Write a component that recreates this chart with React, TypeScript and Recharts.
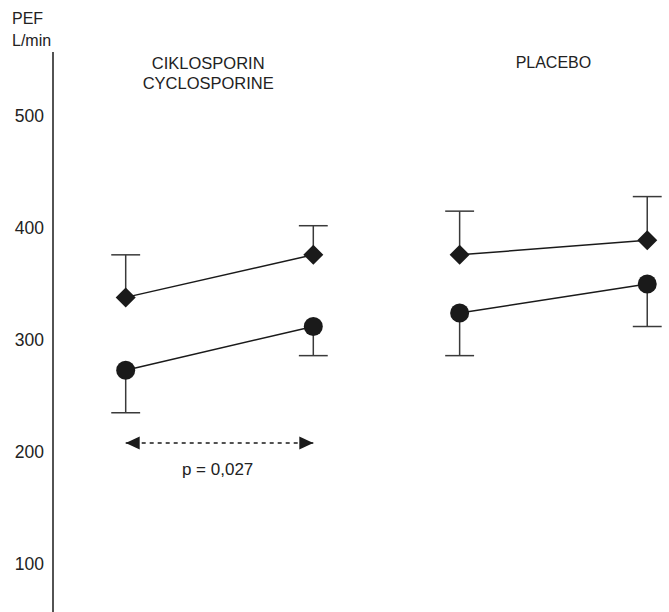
import React from 'react';
import {
  ScatterChart,
  Scatter,
  XAxis,
  YAxis,
  ReferenceLine,
  ReferenceDot,
} from 'recharts';

// visit positions on the x axis (two visits per group)
const cycloX = [0, 1];
const placeboX = [1.78, 2.78];

// PEF L/min
const cycloDiamond = [338, 376];
const cycloDiamondUpper = [376, 402];
const cycloCircle = [273, 312];
const cycloCircleLower = [235, 286];

const placeboDiamond = [376, 389];
const placeboDiamondUpper = [415, 428];
const placeboCircle = [324, 350];
const placeboCircleLower = [286, 312];

const yTicks = [100, 200, 300, 400, 500];
const arrowY = 208;
const pValue = 'p = 0,027';

const INK = '#1a1a1a';
const BAR = '#3a3a3a';
const CAP = 0.077; // half cap width, in x units

const toPoints = (xs: number[], ys: number[]) => xs.map((x, i) => ({ x, y: ys[i] }));

const bars = [
  { xs: cycloX, from: cycloDiamond, to: cycloDiamondUpper },
  { xs: cycloX, from: cycloCircle, to: cycloCircleLower },
  { xs: placeboX, from: placeboDiamond, to: placeboDiamondUpper },
  { xs: placeboX, from: placeboCircle, to: placeboCircleLower },
];

const Diamond = (props: any) => {
  const { cx, cy } = props;
  const r = 10;
  return (
    <polygon
      points={`${cx},${cy - r} ${cx + r},${cy} ${cx},${cy + r} ${cx - r},${cy}`}
      fill={INK}
    />
  );
};

const Dot = (props: any) => <circle cx={props.cx} cy={props.cy} r={9.5} fill={INK} />;

const ArrowHead = (props: any) => {
  const { cx, cy, index } = props;
  const dir = index === 0 ? 1 : -1; // first points left, second right
  const len = 14;
  const h = 6.5;
  return (
    <polygon
      points={`${cx},${cy} ${cx + dir * len},${cy - h} ${cx + dir * len},${cy + h}`}
      fill={INK}
    />
  );
};

export default function App() {
  const lineStyle = { stroke: INK, strokeWidth: 1.5 };
  return (
    <div
      style={{
        position: 'absolute',
        left: 0,
        top: 0,
        width: 669,
        height: 612,
        background: '#fff',
        fontFamily: '"Liberation Sans", Arial, sans-serif',
        color: '#222',
      }}
    >
      <div style={{ position: 'absolute', left: 12, top: 8, fontSize: 16, lineHeight: '22px' }}>
        PEF
        <br />
        L/min
      </div>
      <ScatterChart width={669} height={612} margin={{ top: 52, right: 0, bottom: 0, left: 0 }}>
        <XAxis type="number" dataKey="x" domain={[-0.3875, 2.896]} hide />
        <YAxis
          type="number"
          dataKey="y"
          domain={[57.1, 557.1]}
          ticks={yTicks}
          width={53}
          allowDataOverflow
          tickLine={false}
          tickSize={0}
          tickMargin={9}
          axisLine={{ stroke: INK, strokeWidth: 1.5 }}
          tick={{ fill: '#222', fontSize: 17.5 }}
        />

        {bars.flatMap((b, bi) =>
          b.xs.map((x, i) => [
            <ReferenceLine
              key={`v${bi}-${i}`}
              segment={[
                { x, y: b.from[i] },
                { x, y: b.to[i] },
              ]}
              stroke={BAR}
              strokeWidth={1.5}
              ifOverflow="visible"
            />,
            <ReferenceLine
              key={`c${bi}-${i}`}
              segment={[
                { x: x - CAP, y: b.to[i] },
                { x: x + CAP, y: b.to[i] },
              ]}
              stroke={BAR}
              strokeWidth={1.5}
              ifOverflow="visible"
            />,
          ])
        )}

        <Scatter
          data={toPoints(cycloX, cycloDiamond)}
          line={lineStyle}
          shape={Diamond}
          isAnimationActive={false}
        />
        <Scatter
          data={toPoints(cycloX, cycloCircle)}
          line={lineStyle}
          shape={Dot}
          isAnimationActive={false}
        />
        <Scatter
          data={toPoints(placeboX, placeboDiamond)}
          line={lineStyle}
          shape={Diamond}
          isAnimationActive={false}
        />
        <Scatter
          data={toPoints(placeboX, placeboCircle)}
          line={lineStyle}
          shape={Dot}
          isAnimationActive={false}
        />
        <Scatter
          data={toPoints(cycloX, [arrowY, arrowY])}
          line={{ stroke: INK, strokeWidth: 1.3, strokeDasharray: '4 4' }}
          shape={ArrowHead}
          isAnimationActive={false}
        />

        <ReferenceDot
          x={0.49}
          y={185}
          r={0}
          ifOverflow="visible"
          label={{ value: pValue, position: 'center', fill: '#222', fontSize: 17 }}
        />
        <ReferenceDot
          x={0.44}
          y={547.3}
          r={0}
          ifOverflow="visible"
          label={{ value: 'CIKLOSPORIN', position: 'center', fill: '#222', fontSize: 16.5 }}
        />
        <ReferenceDot
          x={0.44}
          y={529.5}
          r={0}
          ifOverflow="visible"
          label={{ value: 'CYCLOSPORINE', position: 'center', fill: '#222', fontSize: 16.5 }}
        />
        <ReferenceDot
          x={2.28}
          y={548.2}
          r={0}
          ifOverflow="visible"
          label={{ value: 'PLACEBO', position: 'center', fill: '#222', fontSize: 16 }}
        />
      </ScatterChart>
    </div>
  );
}
